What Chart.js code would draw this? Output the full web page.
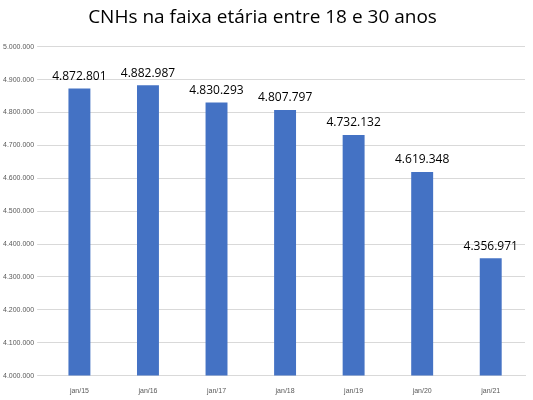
<!DOCTYPE html>
<html><head><meta charset="utf-8">
<script src="https://cdn.jsdelivr.net/npm/chart.js"></script>
<style>html,body{margin:0;padding:0;background:#fff;}#w{width:533px;height:400px;}</style>
</head><body><div id="w"><canvas id="c"></canvas></div>
<script>
const categories = ["jan/15","jan/16","jan/17","jan/18","jan/19","jan/20","jan/21"];
const values = [4872801,4882987,4830293,4807797,4732132,4619348,4356971];
const fmt = v => String(Math.round(v)).replace(/\B(?=(\d{3})+(?!\d))/g,".");
const labelsPlugin = {
  id:'lbl',
  afterDatasetsDraw(chart){
    const ctx=chart.ctx; const meta=chart.getDatasetMeta(0);
    ctx.save(); ctx.font='12px "Open Sans", sans-serif'; ctx.fillStyle='#000';
    ctx.textAlign='center'; ctx.textBaseline='bottom';
    meta.data.forEach((b,i)=>ctx.fillText(fmt(values[i]), b.x, b.y-6));
    ctx.restore();
  }
};
new Chart(document.getElementById('c'),{
  type:'bar',
  data:{labels:categories,datasets:[{data:values,backgroundColor:'#4472C4',barPercentage:0.32,categoryPercentage:1}]},
  options:{
    responsive:true,maintainAspectRatio:false,animation:false,
    layout:{padding:{left:0,right:8,top:0,bottom:2}},
    plugins:{legend:{display:false},tooltip:{enabled:false},
      title:{display:true,text:'CNHs na faixa etária entre 18 e 30 anos',color:'#000',
        font:{family:'"Open Sans", sans-serif',size:19,weight:'normal'},padding:{top:6,bottom:18}}},
    scales:{
      x:{grid:{display:false},border:{color:'#d9d9d9'},
        ticks:{color:'#595959',font:{size:7}}},
      y:{min:4000000,max:5000000,border:{display:false},
        grid:{color:'#d9d9d9'},
        ticks:{stepSize:100000,color:'#595959',font:{size:7},callback:v=>fmt(v)}}
    }
  },
  plugins:[labelsPlugin]
});
</script></body></html>
